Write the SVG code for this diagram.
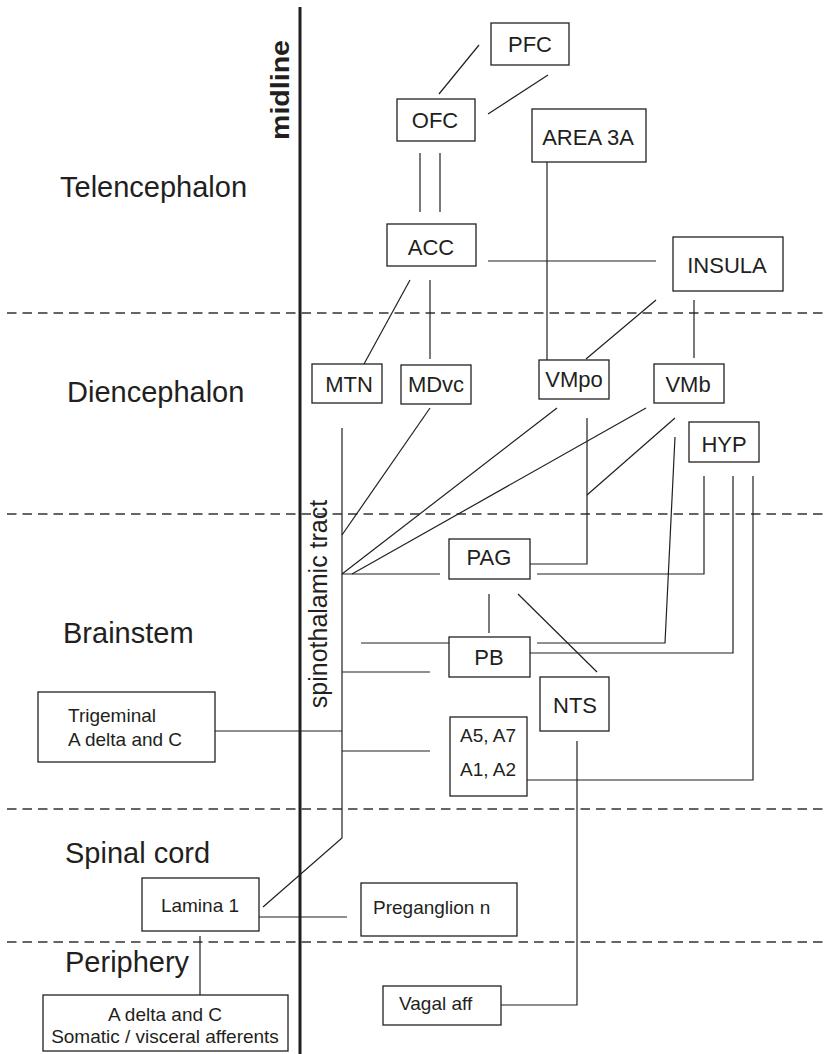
<svg xmlns="http://www.w3.org/2000/svg" width="826" height="1054" viewBox="0 0 826 1054">
<style>
text{font-family:"Liberation Sans",Arial,sans-serif;fill:#231f20}
.region{font-size:29px}
.lbl{font-size:22px;text-anchor:middle}
.sm{font-size:19px}
.box{fill:#fff;stroke:#231f20;stroke-width:1.3}
.ln{fill:none;stroke:#231f20;stroke-width:1.2}
.dash{stroke:#333;stroke-width:1.3;stroke-dasharray:9.5 6}
</style>
<rect width="826" height="1054" fill="#fff"/>
<g id="dividers">
<line class="dash" x1="7" y1="313" x2="826" y2="313"/>
<line class="dash" x1="7" y1="514" x2="826" y2="514"/>
<line class="dash" x1="7" y1="809" x2="826" y2="809"/>
<line class="dash" x1="7" y1="942" x2="826" y2="942"/>
</g>
<g id="regions">
<text class="region" x="60" y="197">Telencephalon</text>
<text class="region" x="67" y="402">Diencephalon</text>
<text class="region" x="63" y="643">Brainstem</text>
<text class="region" x="65" y="863">Spinal cord</text>
<text class="region" x="65" y="972">Periphery</text>
</g>
<g id="midline">
<line x1="300" y1="7" x2="300" y2="1054" stroke="#231f20" stroke-width="3"/>
<text transform="translate(289,90) rotate(-90)" font-size="26" font-weight="bold" text-anchor="middle" textLength="100" lengthAdjust="spacingAndGlyphs">midline</text>
</g>
<g id="connectors">
<line class="ln" x1="479" y1="45" x2="439" y2="94"/>
<line class="ln" x1="548" y1="75" x2="488" y2="114"/>
<line class="ln" x1="420" y1="153" x2="420" y2="212"/>
<line class="ln" x1="440" y1="153" x2="440" y2="212"/>
<line class="ln" x1="547" y1="162" x2="547" y2="360"/>
<line class="ln" x1="488" y1="261" x2="656" y2="261"/>
<line class="ln" x1="410" y1="280" x2="364" y2="364"/>
<line class="ln" x1="430" y1="280" x2="430" y2="359"/>
<line class="ln" x1="656" y1="300" x2="586" y2="359"/>
<line class="ln" x1="694" y1="300" x2="694" y2="358"/>
<polyline class="ln" points="342,428 342,838 263,907"/>
<line class="ln" x1="430" y1="408" x2="342" y2="535"/>
<line class="ln" x1="557" y1="408" x2="342" y2="574"/>
<line class="ln" x1="646" y1="408" x2="352" y2="574"/>
<line class="ln" x1="342" y1="574" x2="440" y2="574"/>
<polyline class="ln" points="530,564 587,564 587,418"/>
<line class="ln" x1="675" y1="418" x2="587" y2="495"/>
<polyline class="ln" points="537,574 704,574 704,476"/>
<polyline class="ln" points="537,643 665,643 675,437"/>
<polyline class="ln" points="530,653 733,653 733,476"/>
<polyline class="ln" points="527,780 753,780 753,476"/>
<line class="ln" x1="489" y1="594" x2="489" y2="633"/>
<line class="ln" x1="518" y1="594" x2="597" y2="672"/>
<line class="ln" x1="361" y1="643" x2="449" y2="643"/>
<line class="ln" x1="342" y1="672" x2="430" y2="672"/>
<line class="ln" x1="342" y1="751" x2="430" y2="751"/>
<line class="ln" x1="215" y1="731" x2="342" y2="731"/>
<polyline class="ln" points="577,741 577,1005 501,1005"/>
<line class="ln" x1="259" y1="917" x2="347" y2="917"/>
<line class="ln" x1="200" y1="936" x2="200" y2="995"/>
<text transform="translate(327,604) rotate(-90)" font-size="25" text-anchor="middle">spinothalamic tract</text>
</g>
<g id="PFC"><rect class="box" x="491" y="23" width="78" height="42"/><text class="lbl" x="530" y="52">PFC</text></g>
<g id="OFC"><rect class="box" x="397" y="99" width="78" height="42"/><text class="lbl" x="435" y="128">OFC</text></g>
<g id="AREA3A"><rect class="box" x="532" y="109" width="114" height="53"/><text class="lbl" x="588" y="145">AREA 3A</text></g>
<g id="ACC"><rect class="box" x="387" y="224" width="89" height="42"/><text class="lbl" x="431" y="255">ACC</text></g>
<g id="INSULA"><rect class="box" x="673" y="237" width="110" height="54"/><text class="lbl" x="727" y="273">INSULA</text></g>
<g id="MTN"><rect class="box" x="312" y="364" width="70" height="39"/><text class="lbl" x="349" y="392">MTN</text></g>
<g id="MDvc"><rect class="box" x="401" y="365" width="70" height="39"/><text class="lbl" x="436" y="392">MDvc</text></g>
<g id="VMpo"><rect class="box" x="539" y="360" width="70" height="39"/><text class="lbl" x="574" y="387">VMpo</text></g>
<g id="VMb"><rect class="box" x="654" y="364" width="70" height="39"/><text class="lbl" x="688" y="392">VMb</text></g>
<g id="HYP"><rect class="box" x="689" y="422" width="70" height="40"/><text class="lbl" x="724" y="452">HYP</text></g>
<g id="PAG"><rect class="box" x="449" y="539" width="81" height="40"/><text class="lbl" x="489" y="565">PAG</text></g>
<g id="PB"><rect class="box" x="449" y="637" width="81" height="40"/><text class="lbl" x="489" y="665">PB</text></g>
<g id="NTS"><rect class="box" x="540" y="677" width="69" height="54"/><text class="lbl" x="575" y="713">NTS</text></g>
<g id="A5A7"><rect class="box" x="450" y="717" width="77" height="79"/><text class="sm" x="488" y="742" text-anchor="middle">A5, A7</text><text class="sm" x="488" y="776" text-anchor="middle">A1, A2</text></g>
<g id="Trigeminal"><rect class="box" x="38" y="692" width="177" height="70"/><text class="sm" x="68" y="722">Trigeminal</text><text class="sm" x="68" y="746">A delta and C</text></g>
<g id="Lamina1"><rect class="box" x="142" y="878" width="117" height="53"/><text class="sm" x="200" y="912" text-anchor="middle">Lamina 1</text></g>
<g id="Preganglion"><rect class="box" x="361" y="883" width="156" height="53"/><text class="sm" x="373" y="914">Preganglion n</text></g>
<g id="Afferents"><rect class="box" x="43" y="995" width="245" height="56"/><text class="sm" x="165" y="1021" text-anchor="middle">A delta and C</text><text class="sm" x="165" y="1043" text-anchor="middle">Somatic / visceral afferents</text></g>
<g id="Vagal"><rect class="box" x="383" y="986" width="118" height="39"/><text class="sm" x="399" y="1010">Vagal aff</text></g>
</svg>
